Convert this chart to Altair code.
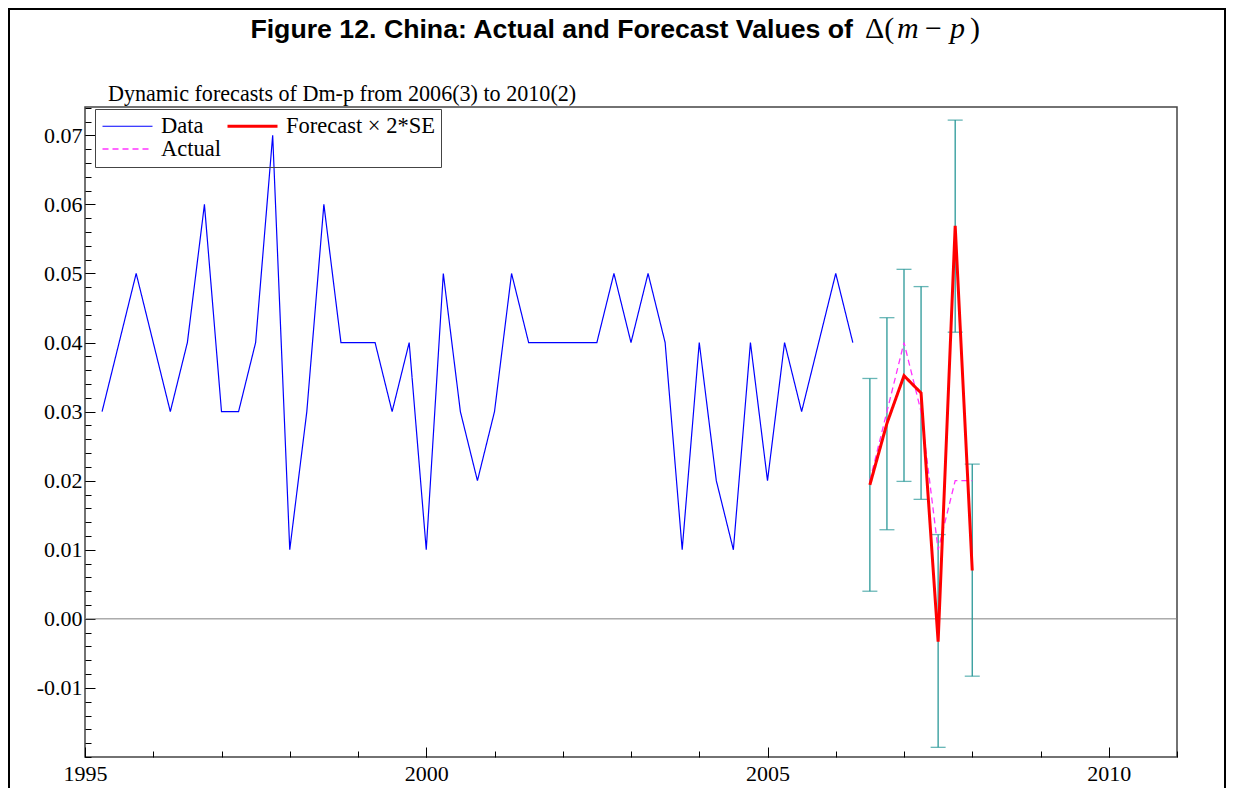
import altair as alt
import pandas as pd

# ---------------- data ----------------
data_start = (1995, 2)          # first observation 1995(2), quarterly
data_values = [0.03, 0.04, 0.05, 0.04, 0.03, 0.04, 0.06, 0.03, 0.03, 0.04,
               0.07, 0.01, 0.03, 0.06, 0.04, 0.04, 0.04, 0.03, 0.04, 0.01,
               0.05, 0.03, 0.02, 0.03, 0.05, 0.04, 0.04, 0.04, 0.04, 0.04,
               0.05, 0.04, 0.05, 0.04, 0.01, 0.04, 0.02, 0.01, 0.04, 0.02,
               0.04, 0.03, 0.04, 0.05, 0.04]
fc_start = (2006, 3)            # forecasts start 2006(3)
forecast_values = [0.0194, 0.0283, 0.0352, 0.0327, -0.0033, 0.0569, 0.0070]
fc_lower = [0.0040, 0.0129, 0.0199, 0.0173, -0.0186, 0.0415, -0.0083]
fc_upper = [0.0348, 0.0436, 0.0506, 0.0481, 0.0122, 0.0722, 0.0224]
actual_values = [0.02, 0.03, 0.04, 0.03, 0.01, 0.02, 0.02]

# legend order (legend grid is filled column by column)
series_names = ["Data", "Actual", "Forecast \u00d7 2*SE"]
series_colors = ["#0000ff", "#ff33ff", "#ff0000"]
series_widths = [1.2, 1.3, 3.0]
series_dashes = [[1, 0], [6, 4], [1, 0]]

x_major = [1995, 2000, 2005, 2010]
x_minor = list(range(1995, 2012))
y_major = [-0.01, 0.00, 0.01, 0.02, 0.03, 0.04, 0.05, 0.06, 0.07]
y_minor = [round(-0.02 + 0.002 * i, 3) for i in range(48)]

title_main = "Figure 12. China: Actual and Forecast Values of"
subtitle = "Dynamic forecasts of Dm-p from 2006(3) to 2010(2)"


def qtimes(start, n):
    y, q = start
    return [y + (q - 1 + i) / 4 for i in range(n)]


t_data = qtimes(data_start, len(data_values))
t_fc = qtimes(fc_start, len(forecast_values))

# row order = drawing order (Data, Actual, then Forecast on top)
lines_df = pd.concat([
    pd.DataFrame({"t": t_data, "v": data_values, "series": "Data"}),
    pd.DataFrame({"t": t_fc, "v": actual_values, "series": "Actual"}),
    pd.DataFrame({"t": t_fc, "v": forecast_values, "series": "Forecast \u00d7 2*SE"}),
], ignore_index=True)
err_df = pd.DataFrame({"t": t_fc, "lo": fc_lower, "hi": fc_upper})
zero_df = pd.DataFrame({"v": [0.0]})

W, H = 1092, 650
serif = "Liberation Serif"

xscale = alt.Scale(domain=[1995, 2011], nice=False, zero=False)
yscale = alt.Scale(domain=[-0.0200, 0.0741], nice=False, zero=False)

x_axis = alt.Axis(
    orient="bottom", values=x_major, format="d", tickSize=10, offset=-10,
    domain=False, grid=False, labelFont=serif, labelFontSize=22, labelPadding=6,
    labelFlush=False, labelOverlap=False,
    labelColor="black", tickColor="black", title=None)
y_axis = alt.Axis(
    orient="left", values=y_major, tickSize=10, offset=-10, domain=False, grid=False,
    labelExpr="replace(format(datum.value, '.2f'), '\u2212', '-')",
    labelFont=serif, labelFontSize=22, labelPadding=3, labelFlush=False,
    labelColor="black", tickColor="black", title=None)

# minor tick axes (no labels)
minor_ax = alt.Chart(zero_df).mark_point(opacity=0).encode(
    x=alt.X("v:Q", scale=xscale, axis=alt.Axis(
        orient="bottom", values=x_minor, tickSize=6, offset=-6, domain=False,
        grid=False, labels=False, tickColor="black", title=None)),
    y=alt.Y("v:Q", scale=yscale, axis=alt.Axis(
        orient="left", values=y_minor, tickSize=6, offset=-6, domain=False,
        grid=False, labels=False, tickColor="black", title=None)),
)

zero_line = alt.Chart(zero_df).mark_rule(color="#808080", strokeWidth=1).encode(
    y=alt.Y("v:Q", scale=yscale, axis=None))

leg = dict(title=None, orient="none", legendX=10, legendY=2,
           columns=2, symbolType="stroke", symbolSize=2500, clipHeight=22,
           labelFont=serif, labelFontSize=22.5, labelColor="black",
           labelOffset=7, columnPadding=5, rowPadding=0,
           padding=6, strokeColor="#444")

lines = alt.Chart(lines_df).mark_line().encode(
    x=alt.X("t:Q", scale=xscale, axis=x_axis),
    y=alt.Y("v:Q", scale=yscale, axis=y_axis),
    color=alt.Color("series:N",
                    scale=alt.Scale(domain=series_names, range=series_colors),
                    legend=alt.Legend(**leg)),
    strokeDash=alt.StrokeDash("series:N",
                              scale=alt.Scale(domain=series_names, range=series_dashes),
                              legend=alt.Legend(**leg)),
    strokeWidth=alt.StrokeWidth("series:N",
                                scale=alt.Scale(type="ordinal", domain=series_names,
                                                range=series_widths),
                                legend=alt.Legend(**leg)),
)

teal = "#2a9898"
err_rule = alt.Chart(err_df).mark_rule(color=teal, strokeWidth=1.3).encode(
    x=alt.X("t:Q", scale=xscale, axis=None),
    y=alt.Y("lo:Q", scale=yscale, axis=None), y2="hi:Q")
err_lo = alt.Chart(err_df).mark_tick(color=teal, size=15, thickness=1.3,
                                     orient="horizontal").encode(
    x=alt.X("t:Q", scale=xscale, axis=None), y=alt.Y("lo:Q", scale=yscale, axis=None))
err_hi = alt.Chart(err_df).mark_tick(color=teal, size=15, thickness=1.3,
                                     orient="horizontal").encode(
    x=alt.X("t:Q", scale=xscale, axis=None), y=alt.Y("hi:Q", scale=yscale, axis=None))

one = pd.DataFrame({"a": [0]})
title_bold = alt.Chart(one).mark_text(
    text=title_main, font="Liberation Sans", fontWeight="bold", fontSize=26.7,
    align="right", baseline="alphabetic", color="black").encode(
    x=alt.value(768), y=alt.value(-69))
math_parts = [
    ("\u0394(", "normal", 780),
    ("m", "italic", 812),
    ("\u2212", "normal", 840),
    ("p", "italic", 865),
    (")", "normal", 885),
]
math_layers = [
    alt.Chart(one).mark_text(text=s, font=serif, fontStyle=st, fontSize=30,
                             align="left", baseline="alphabetic", color="black").encode(
        x=alt.value(px), y=alt.value(-69))
    for s, st, px in math_parts
]
sub = alt.Chart(one).mark_text(
    text=subtitle, font=serif, fontSize=22.1, align="left", baseline="alphabetic",
    color="black").encode(x=alt.value(23), y=alt.value(-6))
frame = alt.Chart(one).mark_rect(fillOpacity=0, stroke="black", strokeWidth=2).encode(
    x=alt.value(-76), x2=alt.value(1140), y=alt.value(-98), y2=alt.value(720))

chart = alt.layer(
    minor_ax, zero_line, err_rule, err_lo, err_hi, lines,
    title_bold, *math_layers, sub, frame,
).resolve_axis(x="independent", y="independent").properties(
    width=W, height=H,
    autosize=alt.AutoSizeParams(type="none"),
    padding={"left": 77, "top": 99, "right": 49, "bottom": 31},
    background="white",
).configure_view(stroke="#444", strokeWidth=1.5)

chart.save("out.html", embed_options={"renderer": "svg", "actions": False})
